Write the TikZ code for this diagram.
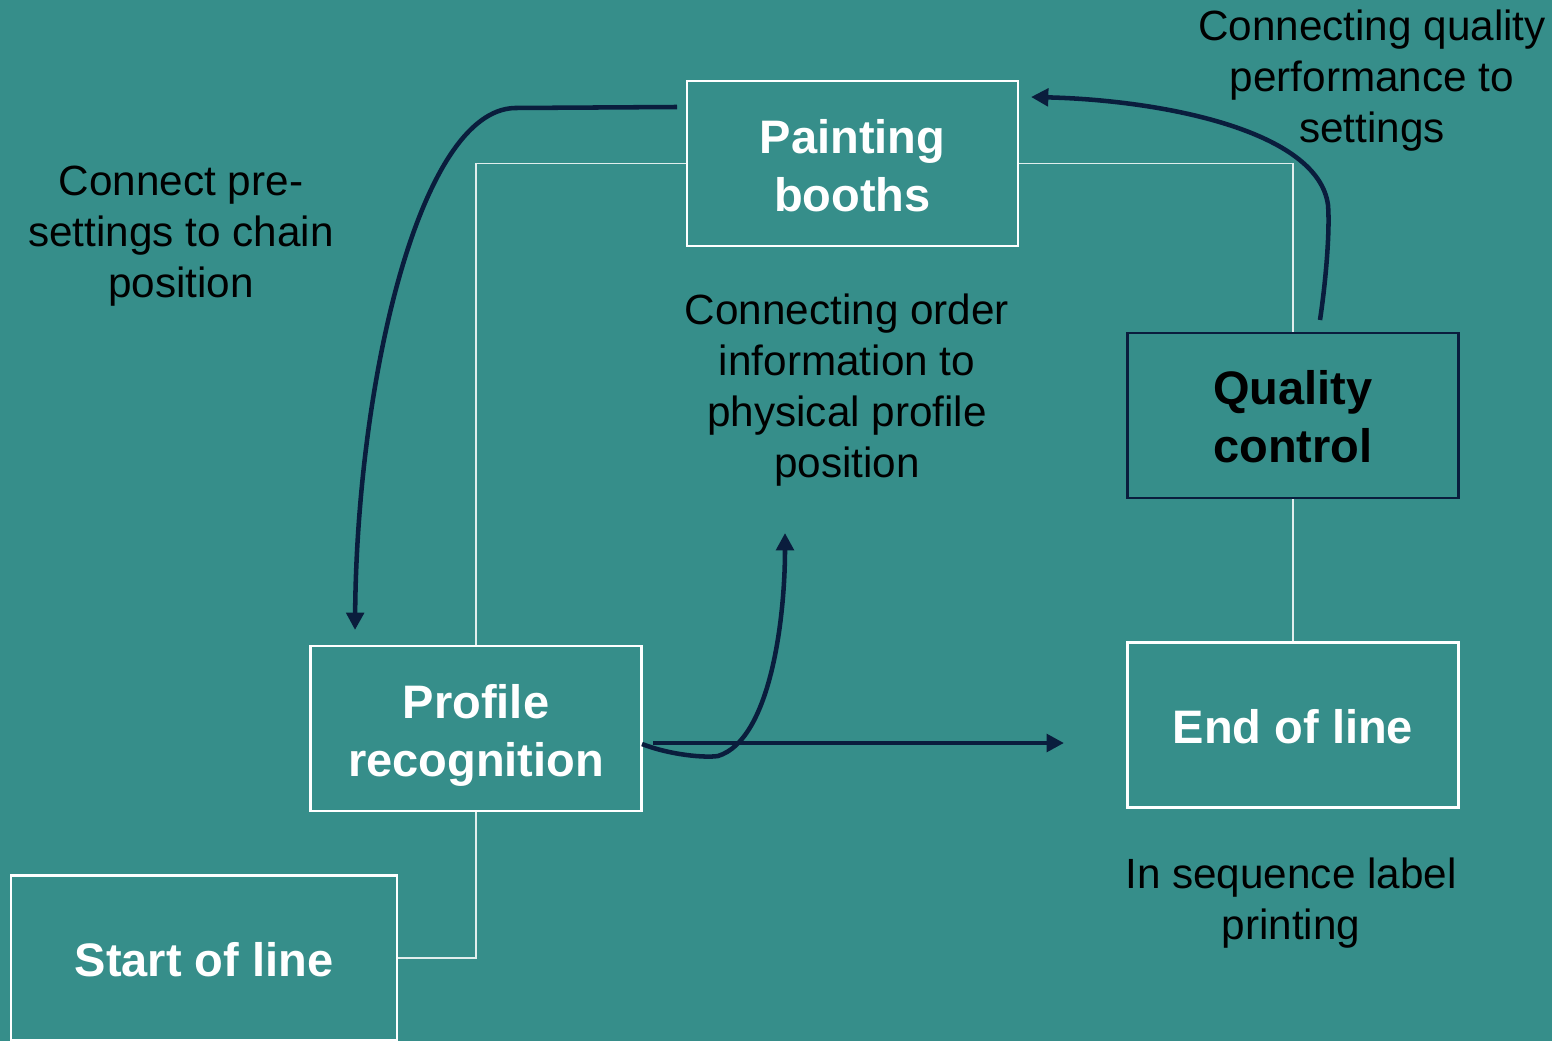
\documentclass[tikz,border=0pt]{standalone}
\usepackage{fontspec}
\setmainfont{Liberation Sans}
\usetikzlibrary{arrows.meta}
\definecolor{bg}{HTML}{368E8A}
\definecolor{navy}{HTML}{0A1D3D}
\tikzset{
  box/.style={draw=white, line width=1.8pt, inner sep=0pt, minimum width=248pt, minimum height=124pt},
  qbox/.style={box, draw=navy},
  boxtext/.style={align=center, text=white, inner sep=0pt, font=\fontsize{35.25}{43.5}\selectfont\bfseries},
  qtext/.style={boxtext, text=black},
  link/.style={draw=white!85!bg, line width=1.1pt},
  flow/.style={draw=navy, line width=3.4pt, -{Triangle[length=13pt, width=13pt]}},
  note/.style={align=center, text=black, inner sep=0pt, font=\fontsize{31.7}{38.3}\selectfont}
}
\begin{document}
\begin{tikzpicture}[x=0.75pt, y=-0.75pt]
\fill[bg] (0,0) rectangle (1552,1041);
\useasboundingbox (0,0) rectangle (1552,1041);

\node[box, label={[boxtext, yshift=-1.5pt]center:Painting\\booths}] (paint) at (852.5,163.5) {};
\node[qbox, label={[qtext, yshift=-1.2pt]center:Quality\\control}] (qc) at (1293,415.5) {};
\node[box, label={[boxtext, yshift=-1.5pt]center:End of line}] (end) at (1293,725) {};
\node[box, label={[boxtext, yshift=-5.2pt]center:Profile\\recognition}] (prof) at (476,728.5) {};
\node[box, minimum width=289.5pt, label={[boxtext, yshift=-1.5pt]center:Start of line}] (start) at (204,958) {};

\draw[link] (start.east) -| (prof.south);
\draw[link] (prof.north) |- (paint.west);
\draw[link] (paint.east) -| (qc.north);
\draw[link] (qc.south) -- (end.north);

\node[note] (n1) at (181,236.5) {Connect pre-\\settings to chain\\position};
\node[note] (n2) at (847,390) {Connecting order\\information to\\physical profile\\position};
\node[note] (n3) at (1372,81) {Connecting quality\\performance to\\settings};
\node[note] (n4) at (1291,903) {In sequence label\\printing};

\coordinate (a1s) at (677,107);
\coordinate (a1e) at (355,630);
\coordinate (a2s) at (1320,320);
\coordinate (a2e) at (1031,97);
\coordinate (a3s) at (642,744);
\coordinate (a3e) at (785,533);
\coordinate (a4s) at (653,743);
\coordinate (a4e) at (1064,743);

\draw[flow] (a1s) -- (515,108) .. controls (420,110) and (357,380) .. (a1e);
\draw[flow] (a2s) .. controls (1326,280) and (1330,230) .. (1328,205)
  .. controls (1318,130) and (1160,100) .. (a2e);
\draw[flow] (a3s) .. controls (670,755) and (705,758) .. (718,756)
  .. controls (770,740) and (785,620) .. (a3e);
\draw[flow] (a4s) -- (a4e);
\end{tikzpicture}
\end{document}
